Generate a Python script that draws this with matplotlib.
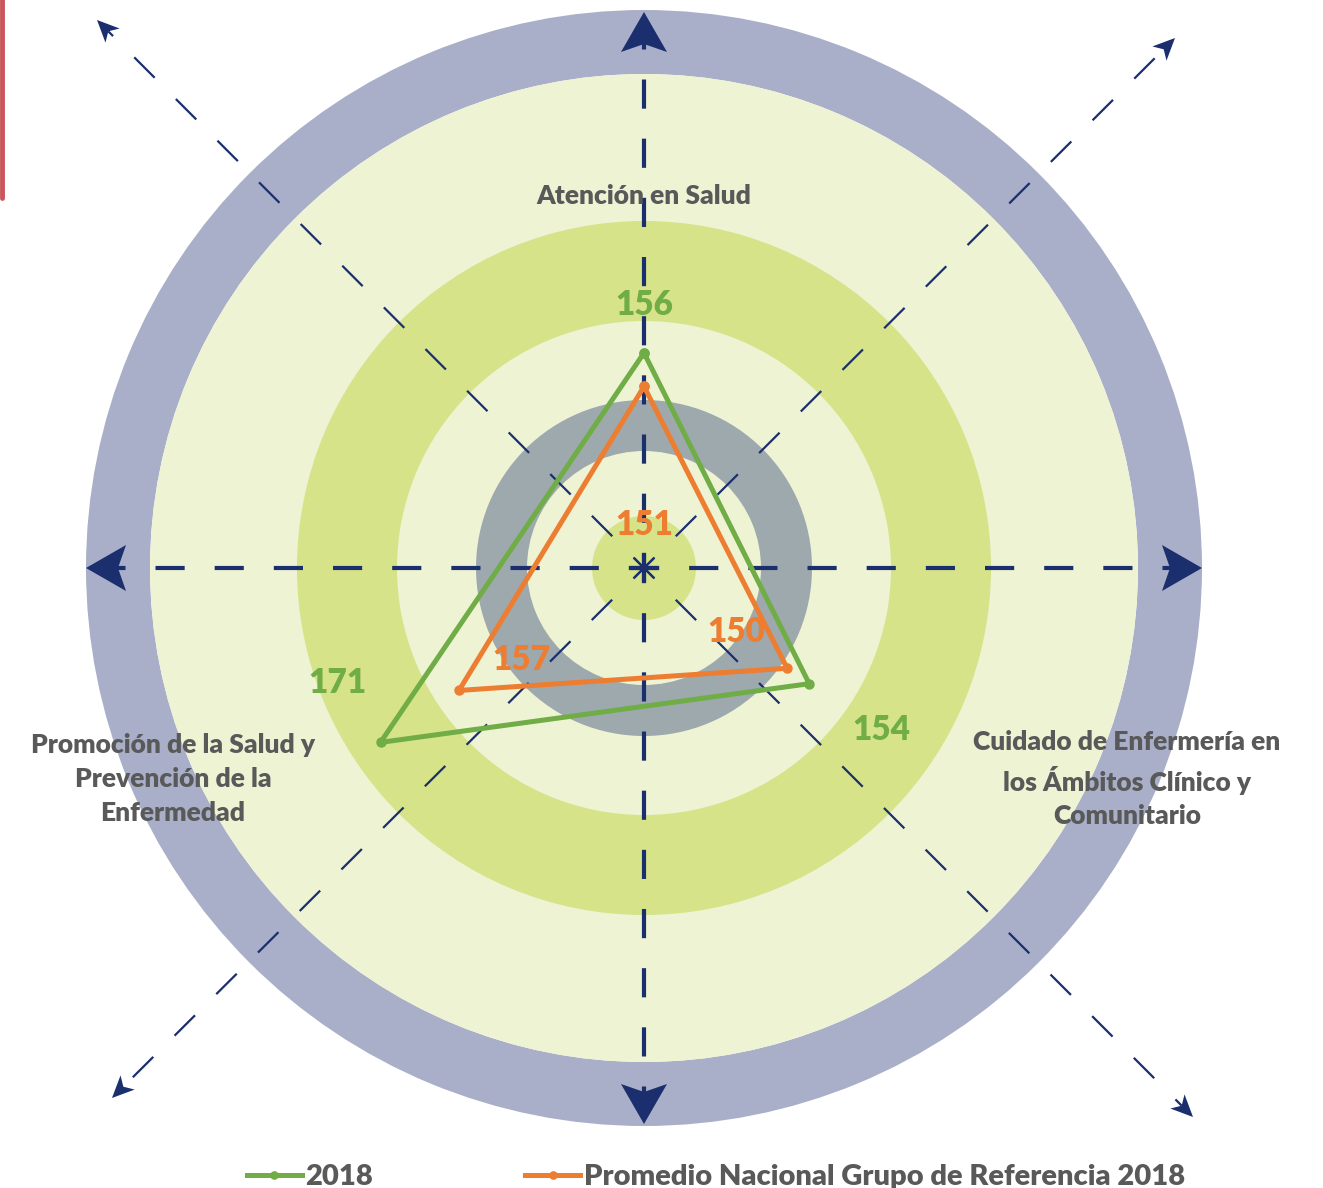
import matplotlib
matplotlib.use("Agg")
import matplotlib.pyplot as plt
from matplotlib.patches import Circle, Wedge, Polygon
import numpy as np

plt.rcParams['font.family'] = ['Lato', 'DejaVu Sans']
plt.rcParams['font.weight'] = 800

# data
competencias = ['Atención en Salud',
                'Cuidado de Enfermería en\nlos Ámbitos Clínico y\nComunitario',
                'Promoción de la Salud y\nPrevención de la\nEnfermedad']
valores_2018 = [156, 154, 171]
valores_ref = [151, 150, 157]
series_names = ['2018', 'Promedio Nacional Grupo de Referencia 2018']

W, H = 1323, 1188
cx, cy = 644, 568
R_OUT = 558

GRAY_TXT = '#595959'
GREEN = '#70AD47'
ORANGE = '#ED7D31'
NAVY = '#1B2F6E'

fig = plt.figure(figsize=(W / 100, H / 100), dpi=100)
bg = fig.add_axes([0, 0, 1, 1])
bg.set_xlim(0, W)
bg.set_ylim(H, 0)
bg.axis('off')

# background rings
bg.add_patch(Wedge((cx, cy), 558, 0, 360, width=64, color='#A9AFC8', lw=0))
bg.add_patch(Circle((cx, cy), 494, color='#EEF3D3', lw=0))
bg.add_patch(Wedge((cx, cy), 347, 0, 360, width=100, color='#D6E388', lw=0))
bg.add_patch(Wedge((cx, cy), 168, 0, 360, width=51, color='#9EA9AE', lw=0))
bg.add_patch(Circle((cx, cy), 52, color='#D6E388', lw=0))

# red border remnant at top left
bg.plot([1.5, 1.5], [0, 198], color='#C9575A', lw=3.5, solid_capstyle='round')


def head(tip, d, L, Wd, notch):
    d = np.array(d, float)
    d /= np.hypot(*d)
    n = np.array([-d[1], d[0]])
    t = np.array(tip, float)
    pts = [t, t - L * d + Wd / 2 * n, t - (L - notch) * d, t - L * d - Wd / 2 * n]
    bg.add_patch(Polygon(pts, closed=True, color=NAVY, lw=0, zorder=3))


# main axes (dashed, big heads)
main_tips = [(1202, 568), (86, 568), (644, 12), (644, 1124)]
for tx, ty in main_tips:
    d = np.array([tx - cx, ty - cy], float)
    L = np.hypot(*d)
    u = d / L
    start = np.array([cx, cy]) - 14 * u
    end = np.array([cx, cy]) + (L - 32) * u
    bg.plot([start[0], end[0]], [start[1], end[1]], color=NAVY, lw=3,
            linestyle=(0, (7, 7.2)), zorder=2)
    head((tx, ty), u, 40, 46, 8)

# diagonal axes (thin dashed, small heads)
diag_tips = [(97, 20), (1193, 1117), (1175, 38), (112, 1098)]
for tx, ty in diag_tips:
    d = np.array([tx - cx, ty - cy], float)
    L = np.hypot(*d)
    u = d / L
    start = np.array([cx, cy]) - 14 * u
    end = np.array([cx, cy]) + (L - 16) * u
    bg.plot([start[0], end[0]], [start[1], end[1]], color=NAVY, lw=1.6,
            linestyle=(0, (13, 13.5)), zorder=2)
    head((tx, ty), u, 22, 20, 6)

# radar data on a polar axes centred on the rings
rmin, rmax = 124, 207
pax = fig.add_axes([(cx - R_OUT) / W, (H - cy - R_OUT) / H, 2 * R_OUT / W, 2 * R_OUT / H],
                   projection='polar')
pax.set_facecolor('none')
pax.axis('off')
pax.set_ylim(rmin, rmax)
theta = np.deg2rad([90, -35, 213.5])
th = np.append(theta, theta[0])
l1, = pax.plot(th, valores_2018 + valores_2018[:1], color=GREEN, lw=3.6,
               marker='o', ms=6.5, zorder=4)
l2, = pax.plot(th, valores_ref + valores_ref[:1], color=ORANGE, lw=3.6,
               marker='o', ms=6.5, zorder=5)

# value labels
green_pos = [(644, 305), (881, 730), (337, 683)]
orange_pos = [(644, 525), (736, 632), (521, 660)]
for (x, y), v in zip(green_pos, valores_2018):
    bg.text(x, y, str(v), color=GREEN, fontsize=24, ha='center', va='center',
            fontweight=800, zorder=6)
for (x, y), v in zip(orange_pos, valores_ref):
    bg.text(x, y, str(v), color=ORANGE, fontsize=24, ha='center', va='center',
            fontweight=800, zorder=6)

# category labels
lab_pos = [(644, 196), (1127, 779), (173, 779)]
for (x, y), lab in zip(lab_pos, competencias):
    bg.text(x, y, lab, color=GRAY_TXT, fontsize=19, ha='center', va='center',
            fontweight=800, linespacing=1.48, zorder=6)

# legend
leg = fig.legend([l1, l2], series_names, loc='lower center', ncol=2,
                 bbox_to_anchor=(0.541, -0.024), frameon=False, fontsize=21,
                 columnspacing=5.2, handlelength=1.9, handletextpad=0.12,
                 markerscale=0.8)
for t in leg.get_texts():
    t.set_color(GRAY_TXT)
    t.set_fontweight(800)

fig.savefig('out.png', dpi=100)
